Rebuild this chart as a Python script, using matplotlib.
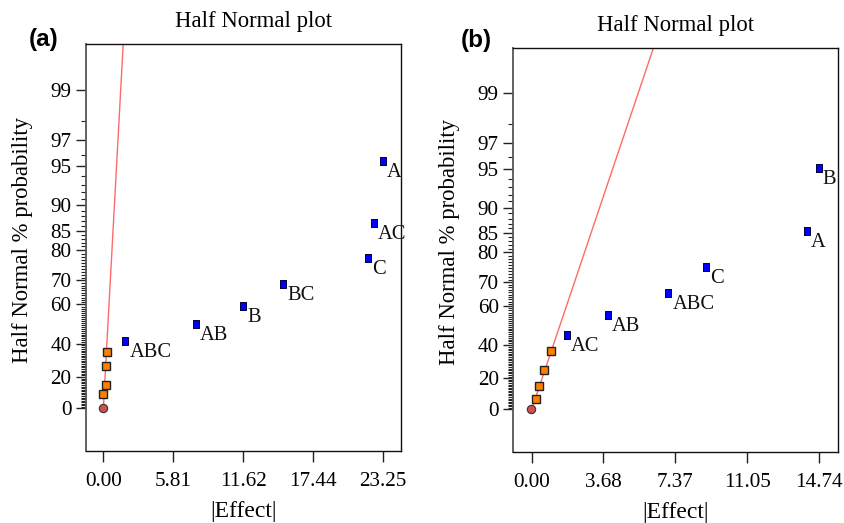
import math
import numpy as np
import matplotlib
matplotlib.use("Agg")
import matplotlib.pyplot as plt

# ---------------- data ----------------
a_labels = ['ABC', 'AB', 'B', 'BC', 'C', 'AC', 'A']
a_effects = [1.83, 7.70, 11.63, 14.93, 21.96, 22.48, 23.20]
a_probs = [41.6, 50.5, 59.5, 68.7, 77.6, 86.6, 95.5]
a_err_effects = [0.0, 0.26, 0.26, 0.27]
a_err_probs = [9.0, 15.0, 27.0, 35.3]
a_origin = (-0.05, 0.5)
a_line_x = [0.0, 1.84]
a_line_p = [0.0, 99.9]
a_xticks = [0.0, 5.81, 11.62, 17.44, 23.25]
a_xticklabels = ['0.00', '5.81', '11.62', '17.44', '23.25']

b_labels = ['AC', 'AB', 'ABC', 'C', 'A', 'B']
b_effects = [1.81, 3.93, 7.01, 8.93, 14.11, 14.73]
b_probs = [45.7, 55.8, 65.7, 75.5, 85.3, 95.1]
b_err_effects = [0.22, 0.38, 0.63, 0.99]
b_err_probs = [6.5, 15.0, 25.3, 36.7]
b_origin = (-0.05, 0.4)
b_line_x = [0.0, 6.98]
b_line_p = [0.0, 99.9]
b_xticks = [0.0, 3.68, 7.37, 11.05, 14.74]
b_xticklabels = ['0.00', '3.68', '7.37', '11.05', '14.74']

y_major = [0, 20, 40, 60, 70, 80, 85, 90, 95, 97, 99]
y_minor = [v for v in range(1, 99) if v not in y_major]

# ---------------- half-normal probability scale ----------------
_verf = np.vectorize(math.erf, otypes=[float])


def erfinv(y):
    y = np.clip(np.asarray(y, dtype=float), -0.999999, 0.999999)
    w = -np.log((1.0 - y) * (1.0 + y))
    w1 = w - 2.5
    p1 = 2.81022636e-08
    for c in [3.43273939e-07, -3.5233877e-06, -4.39150654e-06, 0.00021858087,
              -0.00125372503, -0.00417768164, 0.246640727, 1.50140941]:
        p1 = c + p1 * w1
    w2 = np.sqrt(np.maximum(w, 0)) - 3.0
    p2 = -0.000200214257
    for c in [0.000100950558, 0.00134934322, -0.00367342844, 0.00573950773,
              -0.0076224613, 0.00943887047, 1.00167406, 2.83297682]:
        p2 = c + p2 * w2
    x = np.where(w < 5.0, p1, p2) * y
    for _ in range(2):
        x = x - (_verf(x) - y) / (2.0 / math.sqrt(math.pi) * np.exp(-x * x))
    return x


def fwd(p):
    return math.sqrt(2.0) * erfinv(np.asarray(p, dtype=float) / 100.0)


def inv(z):
    return 100.0 * _verf(np.asarray(z, dtype=float) / math.sqrt(2.0))


plt.rcParams['font.family'] = ['Liberation Serif', 'DejaVu Serif']

fig = plt.figure(figsize=(8.45, 5.23), dpi=100)

ax_a = fig.add_axes([86 / 845, 1 - 451 / 523, 315 / 845, (451 - 44.3) / 523])
ax_b = fig.add_axes([513.3 / 845, 1 - 451.7 / 523, 325 / 845, (451.7 - 47.7) / 523])

z_bottom, z_top = -0.345, 2.947
tall_square = [(-0.36, -0.5), (0.36, -0.5), (0.36, 0.5), (-0.36, 0.5), (-0.36, -0.5)]


def draw(ax, labels, effects, probs, err_e, err_p, origin, lx, lp,
         xticks, xticklabels, xlim, ylab_x):
    ax.set_yscale('function', functions=(fwd, inv))
    ax.plot(lx, lp, color='#ff6a6a', lw=1.0, zorder=2)
    ax.plot(err_e, err_p, ls='none', marker='s', ms=5.4, mfc='#ff8000',
            mec='#222222', mew=1.0, zorder=3)
    ax.plot([origin[0]], [origin[1]], ls='none', marker='o', ms=6.0,
            mfc='#d05050', mec='#333333', mew=0.8, zorder=4)
    ax.plot(effects, probs, ls='none', marker=tall_square, ms=5.6, mfc='#0000ff',
            mec='#000033', mew=0.7, zorder=3)
    for lab, e, p in zip(labels, effects, probs):
        ax.annotate(lab, (e, p), xytext=(2.9, -11.6), textcoords='offset points',
                    ha='left', va='baseline', fontsize=14.8, color='#111111')
    ax.set_xlim(*xlim)
    ax.set_ylim(float(inv(z_bottom)), float(inv(z_top)))
    ax.set_yticks(y_major)
    ax.set_yticklabels([str(v) for v in y_major])
    ax.set_yticks(y_minor, minor=True)
    ax.set_xticks(xticks)
    ax.set_xticklabels(xticklabels)
    ax.xaxis.set_minor_locator(matplotlib.ticker.NullLocator())
    ax.tick_params(axis='y', which='major', direction='out', length=7.5,
                   width=1.0, labelsize=15.2, pad=3, color='#222222')
    ax.tick_params(axis='y', which='minor', direction='out', length=3.5,
                   width=0.8, color='#222222')
    ax.tick_params(axis='x', which='major', direction='out', length=8,
                   width=1.0, labelsize=15.2, pad=7, color='#222222')
    for s in ax.spines.values():
        s.set_color('#111111')
        s.set_linewidth(1.0)
    ax.spines['left'].set_color('#555555')
    ax.spines['left'].set_linewidth(1.3)
    ax.set_ylabel('Half Normal % probability', fontsize=16.4, va='center')
    ax.yaxis.set_label_coords(ylab_x, 0.52)
    ax.set_xlabel('|Effect|', fontsize=17, va='baseline')
    ax.xaxis.set_label_coords(0.5, -0.163)


draw(ax_a, a_labels, a_effects, a_probs, a_err_effects, a_err_probs, a_origin,
     a_line_x, a_line_p, a_xticks, a_xticklabels, (-1.44, 24.72), -0.2)
draw(ax_b, b_labels, b_effects, b_probs, b_err_effects, b_err_probs, b_origin,
     b_line_x, b_line_p, b_xticks, b_xticklabels, (-0.94, 15.73), -0.195)

fig.text(253.5 / 845, 1 - 26.7 / 523, 'Half Normal plot', ha='center',
         va='baseline', fontsize=16.4)
fig.text(676 / 845, 1 - 30.7 / 523, 'Half Normal plot', ha='center',
         va='baseline', fontsize=16.4)
fig.text(43.5 / 845, 1 - 39.5 / 523, '(a)', ha='center', va='center',
         fontsize=17.5, fontweight='bold', family=['Liberation Sans', 'DejaVu Sans'])
fig.text(476 / 845, 1 - 40 / 523, '(b)', ha='center', va='center',
         fontsize=17.5, fontweight='bold', family=['Liberation Sans', 'DejaVu Sans'])

fig.savefig('out.png', dpi=100)
